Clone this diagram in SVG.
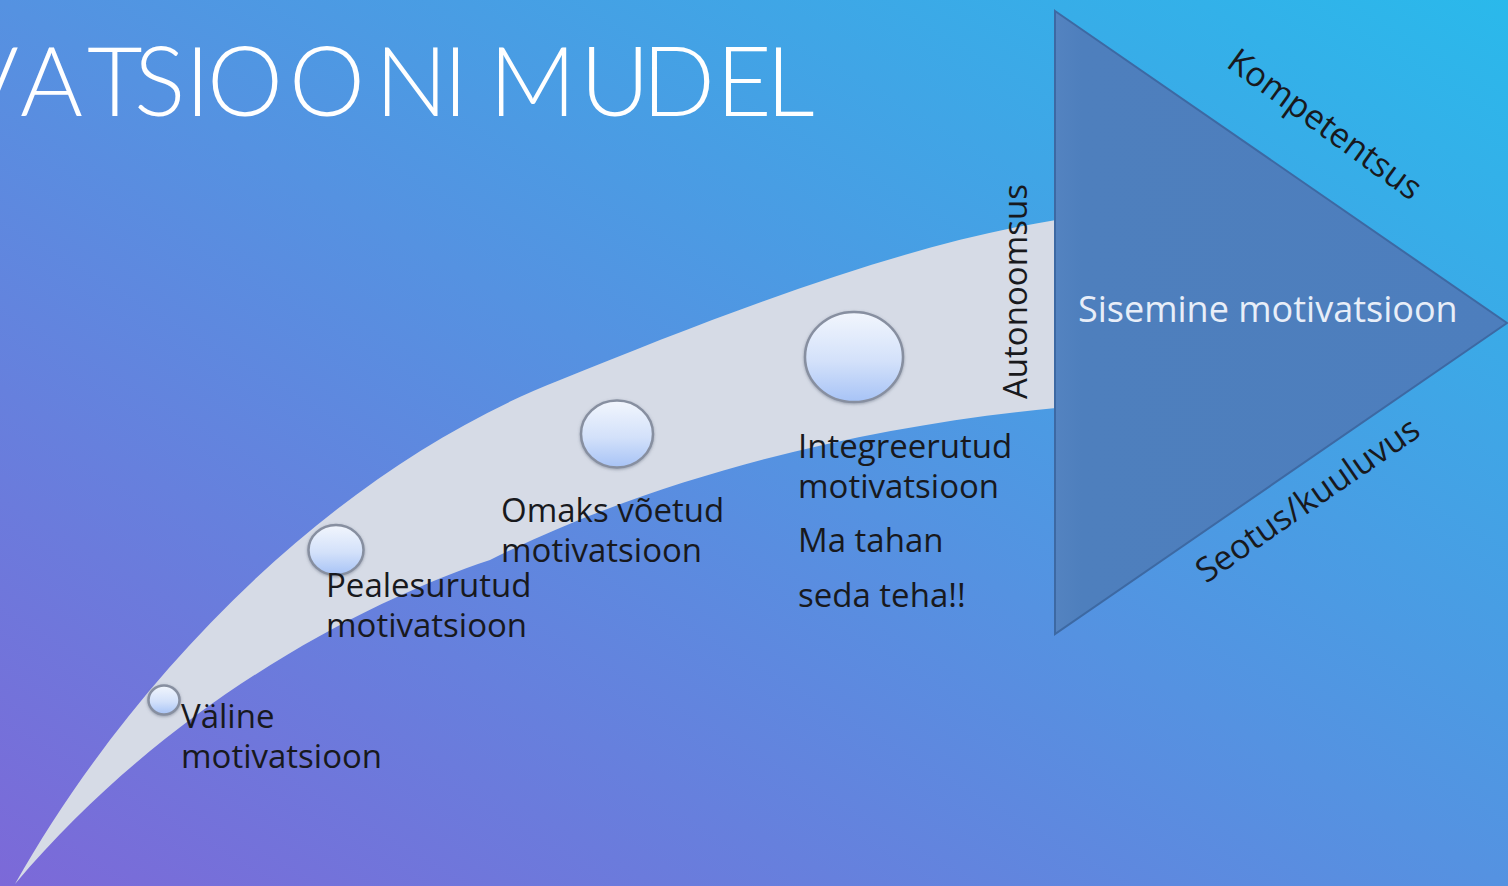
<svg xmlns="http://www.w3.org/2000/svg" width="1508" height="886" viewBox="0 0 1508 886">
  <defs>
    <linearGradient id="bg" x1="0" y1="1" x2="1" y2="0">
      <stop offset="0" stop-color="#7c69d8"/>
      <stop offset="0.5" stop-color="#5592e1"/>
      <stop offset="1" stop-color="#2ab9eb"/>
    </linearGradient>
    <linearGradient id="ball" x1="0" y1="0" x2="0" y2="1">
      <stop offset="0" stop-color="#f2f6fd"/>
      <stop offset="0.55" stop-color="#d3e1fa"/>
      <stop offset="1" stop-color="#a7c3f6"/>
    </linearGradient>
    <linearGradient id="tri" x1="0" y1="0" x2="1" y2="0">
      <stop offset="0" stop-color="#5483c0"/>
      <stop offset="0.06" stop-color="#4e7fbd"/>
      <stop offset="1" stop-color="#4d7ebd"/>
    </linearGradient>
    <filter id="sh" x="-20%" y="-20%" width="140%" height="140%">
      <feDropShadow dx="0" dy="1" stdDeviation="1.5" flood-color="#5a6275" flood-opacity="0.5"/>
    </filter>
  </defs>
  <style>
    .lbl { font-family: "Open Sans", "Liberation Sans", sans-serif; font-size: 33px; font-weight: 500; fill: #18191d; }
    .edge { font-size: 34px; }
    .ball { fill: url(#ball); stroke: #878fa0; stroke-width: 2.5; filter: url(#sh); }
    .title { font-family: "Lato", "Liberation Sans", sans-serif; font-weight: 300; font-size: 96px; fill: #ffffff; }
  </style>

  <rect x="0" y="0" width="1508" height="886" fill="url(#bg)"/>

  <g id="title">
    <text class="title" y="116" x="-44 20 87 134 185 207 289 375 443 462 489 580 642 716 766">VATSIOONI MUDEL</text>
  </g>

  <g id="connectors">
    <path id="band" d="M15,884 C130,680 330,470 560,380 C720,315 900,245 1056,220 L1056,408 C870,425 660,475 490,560 C370,600 170,700 15,884 Z" fill="#d6dbe6"/>
  </g>

  <g id="triangle">
    <path d="M1055,11 L1507,323 L1055,634 Z" fill="url(#tri)" stroke="#3d69a3" stroke-width="2"/>
    <text x="1078" y="322" font-family="Open Sans, Liberation Sans, sans-serif" font-size="36" font-weight="500" fill="#e8eef8">Sisemine motivatsioon</text>
  </g>

  <g id="kompetentsus">
    <text class="lbl edge" transform="translate(1225,66) rotate(36)">Kompetentsus</text>
  </g>
  <g id="seotus">
    <text class="lbl edge" transform="translate(1206,584) rotate(-34.6)">Seotus/kuuluvus</text>
  </g>
  <g id="autonoomsus">
    <text class="lbl" transform="translate(1027,399) rotate(-90)">Autonoomsus</text>
  </g>

  <g id="valine">
    <ellipse class="ball" cx="164" cy="700" rx="15.5" ry="14.5"/>
    <text class="lbl" x="181" y="728">Väline</text>
    <text class="lbl" x="181" y="768">motivatsioon</text>
  </g>
  <g id="pealesurutud">
    <ellipse class="ball" cx="336" cy="550" rx="27.5" ry="25"/>
    <text class="lbl" x="326" y="597">Pealesurutud</text>
    <text class="lbl" x="326" y="637">motivatsioon</text>
  </g>
  <g id="omaks">
    <ellipse class="ball" cx="617" cy="434" rx="36" ry="33.5"/>
    <text class="lbl" x="501" y="522">Omaks võetud</text>
    <text class="lbl" x="501" y="562">motivatsioon</text>
  </g>
  <g id="integreerutud">
    <ellipse class="ball" cx="854" cy="357" rx="49" ry="45"/>
    <text class="lbl" x="798" y="458">Integreerutud</text>
    <text class="lbl" x="798" y="498">motivatsioon</text>
    <text class="lbl" x="798" y="552">Ma tahan</text>
    <text class="lbl" x="798" y="607">seda teha!!</text>
  </g>
</svg>
